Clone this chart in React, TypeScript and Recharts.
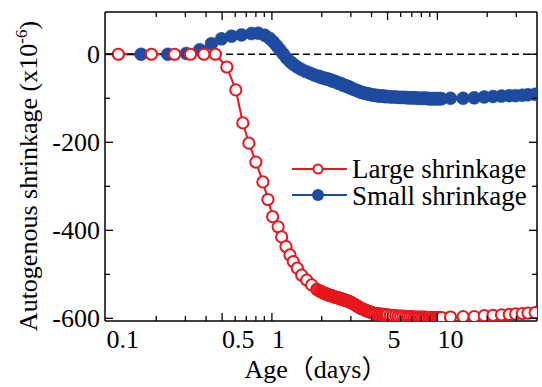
import React from 'react';
import { LineChart, Line, XAxis, YAxis, ReferenceLine, Legend } from 'recharts';

// ---- data ----
const largeAge = [
  0.118, 0.187, 0.258, 0.322, 0.388, 0.455, 0.534, 0.605, 0.667, 0.726, 0.8, 0.882, 0.946,
  1.01, 1.09, 1.145, 1.216, 1.286, 1.346, 1.424, 1.513, 1.623, 1.739, 1.866, 1.9, 1.95, 1.975,
  2.0, 2.025, 2.05, 2.075, 2.1, 2.125, 2.15, 2.175, 2.2, 2.225, 2.25, 2.275, 2.3, 2.325, 2.35, 2.375,
  2.4, 2.425, 2.45, 2.475, 2.5, 2.525, 2.55, 2.575, 2.6, 2.625, 2.65, 2.675, 2.7, 2.725, 2.75, 2.775,
  2.8, 2.825, 2.85, 2.875, 2.9, 2.925, 2.95, 2.975, 3.0,
  3.05, 3.1, 3.15, 3.2, 3.25, 3.3, 3.35, 3.4, 3.45, 3.5, 3.55, 3.6, 3.65, 3.7, 3.75, 3.8, 3.85,
  3.9, 3.95, 4.0, 4.1, 4.2,
  4.3, 4.4, 4.5, 4.6, 4.7, 4.8, 4.9, 5.0, 5.2, 5.4, 5.6, 5.8, 6.0, 6.2, 6.4, 6.6, 6.8,
  7.0, 7.2, 7.4, 7.6, 7.8, 8.0, 8.2, 8.4, 8.6, 8.8, 9.0, 9.2, 9.4, 9.6, 9.8, 10.0, 10.2,
  10.4, 10.6, 12.0, 14.3, 16.7, 19.2, 21.7, 24.4, 27.2, 29.7, 32.6, 35.3, 39.0,
];
const largeShrinkage = [
  0, 0, 0, 0, 0, 0, -29, -81, -156, -202, -245, -290, -330,
  -369, -392, -415, -437, -456, -471, -486, -502, -513, -524, -534, -536, -538, -539,
  -540, -541, -542, -543, -544, -544, -545, -546, -547, -547, -548, -548, -549, -550, -550, -551,
  -551, -552, -552, -553, -553, -554, -554, -555, -555, -556, -556, -557, -557, -558, -558, -559,
  -559, -560, -560, -561, -561, -562, -562, -563, -564,
  -565, -567, -568, -570, -571, -573, -574, -576, -577, -578, -579, -580, -581, -582, -583, -584, -584,
  -585, -586, -587, -588, -589,
  -589, -590, -590, -591, -591, -592, -592, -592, -593, -594, -594, -595, -595, -595, -596, -596, -596,
  -596, -597, -597, -597, -597, -597, -597, -597, -598, -598, -598, -598, -598, -598, -598, -598, -598,
  -598, -598, -597, -596, -596, -594, -593, -592, -591, -590, -589, -588, -587,
];

const smallAge = [
  0.085, 0.162, 0.235, 0.304, 0.366, 0.431, 0.496, 0.57, 0.655, 0.753, 0.826, 0.907, 0.97,
  1.02, 1.07, 1.118, 1.17, 1.228, 1.29, 1.35, 1.42, 1.5, 1.6, 1.7, 1.8, 1.9, 1.95,
  2.0, 2.05, 2.1, 2.15, 2.2, 2.25, 2.3, 2.35, 2.4, 2.45, 2.5, 2.55, 2.6, 2.65, 2.7, 2.75,
  2.8, 2.85, 2.9, 2.95, 3.0, 3.1, 3.2, 3.3, 3.4, 3.5, 3.6, 3.7, 3.8, 3.9, 4.0, 4.1, 4.2,
  4.3, 4.4, 4.5, 4.6, 4.7, 4.8, 4.9, 5.0, 5.2, 5.4, 5.6, 5.8, 6.0, 6.2, 6.4, 6.6, 6.8,
  7.0, 7.2, 7.4, 7.6, 7.8, 8.0, 8.2, 8.4, 8.6, 8.8, 9.0, 9.2, 9.4, 9.6, 9.8, 10.0, 10.2,
  10.4, 10.6, 12.0, 14.3, 16.7, 19.2, 21.7, 24.4, 27.2, 29.7, 32.6, 35.3, 39.0,
];
const smallShrinkage = [
  0, 0, 0, 2, 10, 24, 35, 41, 44, 47, 48, 43, 36,
  28, 19, 10, 1, -9, -17, -23, -29, -34, -39, -43, -47, -50, -51,
  -53, -54, -55, -56, -57, -58, -60, -61, -62, -63, -65, -66, -67, -68, -70, -71,
  -72, -73, -74, -75, -77, -79, -81, -83, -85, -87, -88, -89, -90, -91, -92, -93, -93,
  -94, -94, -95, -95, -95, -96, -96, -96, -97, -97, -97, -98, -98, -98, -98, -99, -99,
  -99, -99, -99, -100, -100, -100, -100, -100, -100, -101, -101, -101, -101, -101, -101, -101, -101,
  -101, -101, -100, -100, -99, -97, -96, -95, -94, -94, -93, -92, -91,
];

const seriesNames = ['Large shrinkage', 'Small shrinkage'];
const xTicks = [0.1, 0.2, 0.3, 0.4, 0.5, 0.6, 0.7, 0.8, 0.9, 1, 2, 3, 4, 5, 6, 7, 8, 9, 10, 20, 30];
const xLabelTicks = [0.1, 0.5, 1, 5, 10];
const xMajorTicks = [0.5, 1, 5, 10];
const yTicks = [-600, -500, -400, -300, -200, -100, 0];
const yLabelTicks = [-600, -400, -200, 0];
const xAxisTitle = 'Age（days）';
const yAxisTitle = 'Autogenous shrinkage (x10';
const yAxisExp = '-6';

// ---- styles ----
const RED = '#e8161e';
const BLUE = '#1e4ba0';
const FONT = "'Liberation Serif', 'Noto Sans CJK JP', serif";
const FS = 26;

const largeData = largeAge.map((t, i) => ({ t, v: largeShrinkage[i] }));
const smallData = smallAge.map((t, i) => ({ t, v: smallShrinkage[i] }));

const BottomTick = (p: any) => {
  const v = p.payload.value;
  const len = xMajorTicks.includes(v) ? 8 : 5;
  return (
    <g>
      {v !== 0.1 && <line x1={p.x} x2={p.x} y1={p.y} y2={p.y - len} stroke="#000" strokeWidth={1.3} />}
      {xLabelTicks.includes(v) && (
        <text x={p.x} y={p.y + 27} textAnchor="start" fontFamily={FONT} fontSize={FS} fill="#000">
          {String(v)}
        </text>
      )}
    </g>
  );
};

const TopTick = (p: any) => {
  const v = p.payload.value;
  if (v === 0.1) return <g />;
  const len = xMajorTicks.includes(v) ? 8 : 5;
  return <line x1={p.x} x2={p.x} y1={p.y} y2={p.y + len} stroke="#000" strokeWidth={1.3} />;
};

const LeftTick = (p: any) => {
  const v = p.payload.value;
  const len = yLabelTicks.includes(v) ? 8 : 5;
  return (
    <g>
      <line x1={p.x} x2={p.x + len} y1={p.y} y2={p.y} stroke="#000" strokeWidth={1.3} />
      {yLabelTicks.includes(v) && (
        <text x={p.x - 5} y={p.y + 9} textAnchor="end" fontFamily={FONT} fontSize={FS} fill="#000">
          {String(v)}
        </text>
      )}
    </g>
  );
};

const RightTick = (p: any) => {
  const v = p.payload.value;
  const len = yLabelTicks.includes(v) ? 8 : 5;
  return <line x1={p.x} x2={p.x - len} y1={p.y} y2={p.y} stroke="#000" strokeWidth={1.3} />;
};

const LegendBox = () => (
  <svg width={250} height={64} style={{ display: 'block' }}>
    <line x1={4} x2={59} y1={19} y2={19} stroke={RED} strokeWidth={2} />
    <circle cx={30} cy={19} r={4.5} fill="#fff" stroke={RED} strokeWidth={2} />
    <text x={64} y={28} fontFamily={FONT} fontSize={27} fill="#000">{seriesNames[0]}</text>
    <line x1={4} x2={59} y1={45} y2={45} stroke={BLUE} strokeWidth={2} />
    <circle cx={30} cy={45} r={6} fill={BLUE} />
    <text x={64} y={55} fontFamily={FONT} fontSize={27} fill="#000">{seriesNames[1]}</text>
  </svg>
);

export default function App() {
  return (
    <div style={{ position: 'absolute', left: 0, top: 0, background: '#fff' }}>
      <LineChart width={542} height={387} margin={{ top: 0, right: 0, bottom: 0, left: 0 }}>
        <XAxis
          dataKey="t"
          type="number"
          scale="log"
          domain={[0.098, 40]}
          allowDataOverflow
          ticks={xTicks}
          interval={0}
          height={66}
          tickSize={0}
          tickMargin={0}
          tickLine={false}
          tick={BottomTick}
          axisLine={{ stroke: '#000', strokeWidth: 1.5 }}
          label={{
            content: () => (
              <text x={316} y={378} textAnchor="middle" fontFamily={FONT} fontSize={FS} fill="#000">
                {xAxisTitle}
              </text>
            ),
          }}
        />
        <XAxis
          xAxisId="top"
          orientation="top"
          dataKey="t"
          type="number"
          scale="log"
          domain={[0.098, 40]}
          allowDataOverflow
          ticks={xTicks}
          interval={0}
          height={12}
          tickSize={0}
          tickMargin={0}
          tickLine={false}
          tick={TopTick}
          axisLine={{ stroke: '#000', strokeWidth: 1.5 }}
        />
        <YAxis
          type="number"
          domain={[-606, 96]}
          allowDataOverflow
          ticks={yTicks}
          interval={0}
          width={105}
          tickSize={0}
          tickMargin={0}
          tickLine={false}
          tick={LeftTick}
          axisLine={{ stroke: '#000', strokeWidth: 1.5 }}
          label={{
            content: () => (
              <text transform="translate(37,176) rotate(-90)" textAnchor="middle" fontFamily={FONT} fontSize={FS} fill="#000">
                {yAxisTitle}
                <tspan dy={-10} fontSize={17}>{yAxisExp}</tspan>
                <tspan dy={10}>)</tspan>
              </text>
            ),
          }}
        />
        <YAxis
          yAxisId="right"
          orientation="right"
          type="number"
          domain={[-606, 96]}
          allowDataOverflow
          ticks={yTicks}
          interval={0}
          width={5}
          tickSize={0}
          tickMargin={0}
          tickLine={false}
          tick={RightTick}
          axisLine={{ stroke: '#000', strokeWidth: 1.5 }}
        />
        <Legend
          layout="horizontal"
          verticalAlign="middle"
          align="center"
          wrapperStyle={{ left: 288, top: 150, width: 250, height: 64 }}
          content={() => <LegendBox />}
        />
        <Line
          data={smallData}
          dataKey="v"
          name={seriesNames[1]}
          stroke={BLUE}
          strokeWidth={2}
          dot={{ r: 6.5, fill: BLUE, stroke: BLUE, strokeWidth: 0.5 }}
          activeDot={false}
          isAnimationActive={false}
        />
        <Line
          data={largeData}
          dataKey="v"
          name={seriesNames[0]}
          stroke={RED}
          strokeWidth={2}
          dot={{ r: 5.6, fill: '#fff', stroke: RED, strokeWidth: 2 }}
          activeDot={false}
          isAnimationActive={false}
        />
        <ReferenceLine y={0} stroke="#000" strokeWidth={1.5} strokeDasharray="7 4" />
      </LineChart>
    </div>
  );
}
